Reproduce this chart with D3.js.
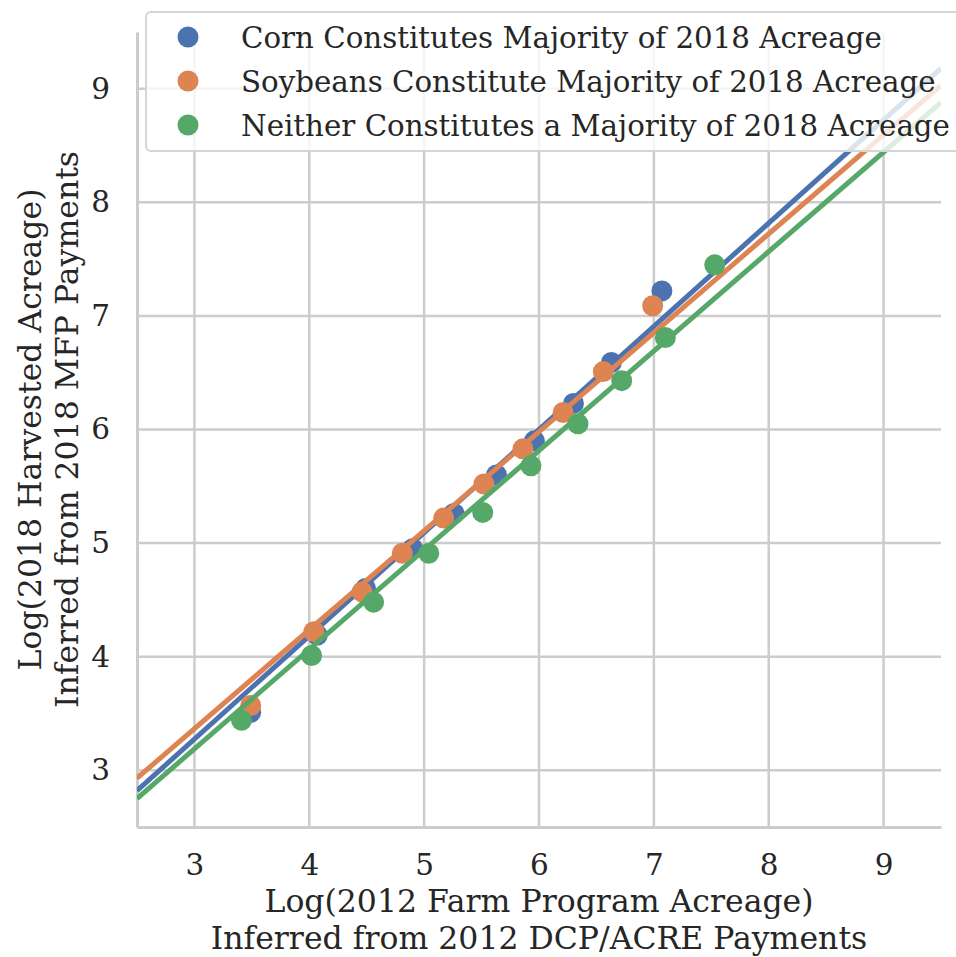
<!DOCTYPE html>
<html><head><meta charset="utf-8">
<script src="https://cdn.jsdelivr.net/npm/d3@7"></script>
<style>body{margin:0;background:#fff}svg{display:block}text{font-family:"DejaVu Serif",serif;fill:#262626}</style>
</head><body><svg id="c" width="956" height="957"></svg>
<script>
// ---- data ----
const seriesNames = ["Corn Constitutes Majority of 2018 Acreage","Soybeans Constitute Majority of 2018 Acreage","Neither Constitutes a Majority of 2018 Acreage"];
const seriesColors = ["#4c72b0","#dd8452","#55a868"];
const cornX = [3.49,4.07,4.49,4.90,5.26,5.63,5.96,6.30,6.63,7.07];
const cornY = [3.51,4.19,4.60,4.95,5.26,5.60,5.90,6.23,6.59,7.22];
const soyX = [3.49,4.04,4.46,4.81,5.17,5.52,5.86,6.21,6.56,6.99];
const soyY = [3.57,4.22,4.57,4.91,5.22,5.52,5.83,6.15,6.51,7.09];
const neitherX = [3.41,4.02,4.56,5.04,5.51,5.93,6.34,6.72,7.10,7.53];
const neitherY = [3.44,4.01,4.48,4.91,5.27,5.68,6.05,6.43,6.81,7.45];
// fitted regression line endpoints [x0, y0, x1, y1]
const cornFit = [2.5, 2.82, 9.5, 9.18];
const soyFit = [2.5, 2.93, 9.5, 9.03];
const neitherFit = [2.5, 2.75, 9.5, 8.88];
const xTicks = [3,4,5,6,7,8,9];
const yTicks = [3,4,5,6,7,8,9];
const xLabel = ["Log(2012 Farm Program Acreage)","Inferred from 2012 DCP/ACRE Payments"];
const yLabel = ["Log(2018 Harvested Acreage)","Inferred from 2018 MFP Payments"];

const svg = d3.select("#c");
const L=137, R=941, T=32, B=827;
const x = d3.scaleLinear().domain([2.5,9.5]).range([L,R]);
const y = d3.scaleLinear().domain([2.5,9.5]).range([B,T]);
const grid = "#cccccc";

svg.append("defs").append("clipPath").attr("id","clip").append("rect")
  .attr("x",L).attr("y",T).attr("width",R-L).attr("height",B-T);

// grid
svg.append("g").selectAll("line").data(xTicks).join("line")
  .attr("x1",d=>x(d)).attr("x2",d=>x(d)).attr("y1",T).attr("y2",B)
  .attr("stroke",grid).attr("stroke-width",2.5);
svg.append("g").selectAll("line").data(yTicks).join("line")
  .attr("x1",L).attr("x2",R).attr("y1",d=>y(d)).attr("y2",d=>y(d))
  .attr("stroke",grid).attr("stroke-width",2.5);

// axes (d3 axes, restyled)
const xAxis = svg.append("g").attr("transform",`translate(0,${B})`)
  .call(d3.axisBottom(x).tickValues(xTicks).tickSize(0).tickPadding(27).tickFormat(d3.format("d")));
const yAxis = svg.append("g").attr("transform",`translate(${L},0)`)
  .call(d3.axisLeft(y).tickValues(yTicks).tickSize(0).tickPadding(27).tickFormat(d3.format("d")));
[xAxis,yAxis].forEach(a=>{
  a.select(".domain").attr("stroke",grid).attr("stroke-width",3);
  a.selectAll("text").attr("font-family","DejaVu Serif").attr("font-size",29.5).attr("fill","#262626");
});

// series
const series = [
  {xs:cornX, ys:cornY, fit:cornFit},
  {xs:soyX, ys:soyY, fit:soyFit},
  {xs:neitherX, ys:neitherY, fit:neitherFit}
];
const plot = svg.append("g").attr("clip-path","url(#clip)");
series.forEach((s,i)=>{
  const pts = s.xs.map((v,j)=>[v,s.ys[j]]);
  plot.append("g").selectAll("circle").data(pts).join("circle")
    .attr("cx",d=>x(d[0])).attr("cy",d=>y(d[1])).attr("r",10.5)
    .attr("fill",seriesColors[i]);
  plot.append("line")
    .attr("x1",x(s.fit[0])).attr("y1",y(s.fit[1]))
    .attr("x2",x(s.fit[2])).attr("y2",y(s.fit[3]))
    .attr("stroke",seriesColors[i]).attr("stroke-width",5);
});

// legend
const lg = svg.append("g");
lg.append("rect").attr("x",146).attr("y",12).attr("width",840).attr("height",139).attr("rx",5)
  .attr("fill","#fff").attr("fill-opacity",0.8).attr("stroke","#d5d5d5").attr("stroke-width",2);
seriesNames.forEach((n,i)=>{
  const cy = 37 + i*44;
  lg.append("circle").attr("cx",188).attr("cy",cy).attr("r",10.5).attr("fill",seriesColors[i]);
  lg.append("text").attr("x",241).attr("y",cy).attr("dy","0.36em").attr("font-size",29.3).text(n);
});

// axis labels
const xLab = svg.append("g");
xLabel.forEach((t,i)=>xLab.append("text").attr("text-anchor","middle").attr("font-size",31.5)
  .attr("x",(L+R)/2).attr("y",912+i*37).text(t));
const yLab = svg.append("g").attr("transform",`translate(0,${(T+B)/2}) rotate(-90)`);
yLabel.forEach((t,i)=>yLab.append("text").attr("text-anchor","middle").attr("font-size",31.5)
  .attr("x",0).attr("y",41+i*37).text(t));
</script></body></html>
